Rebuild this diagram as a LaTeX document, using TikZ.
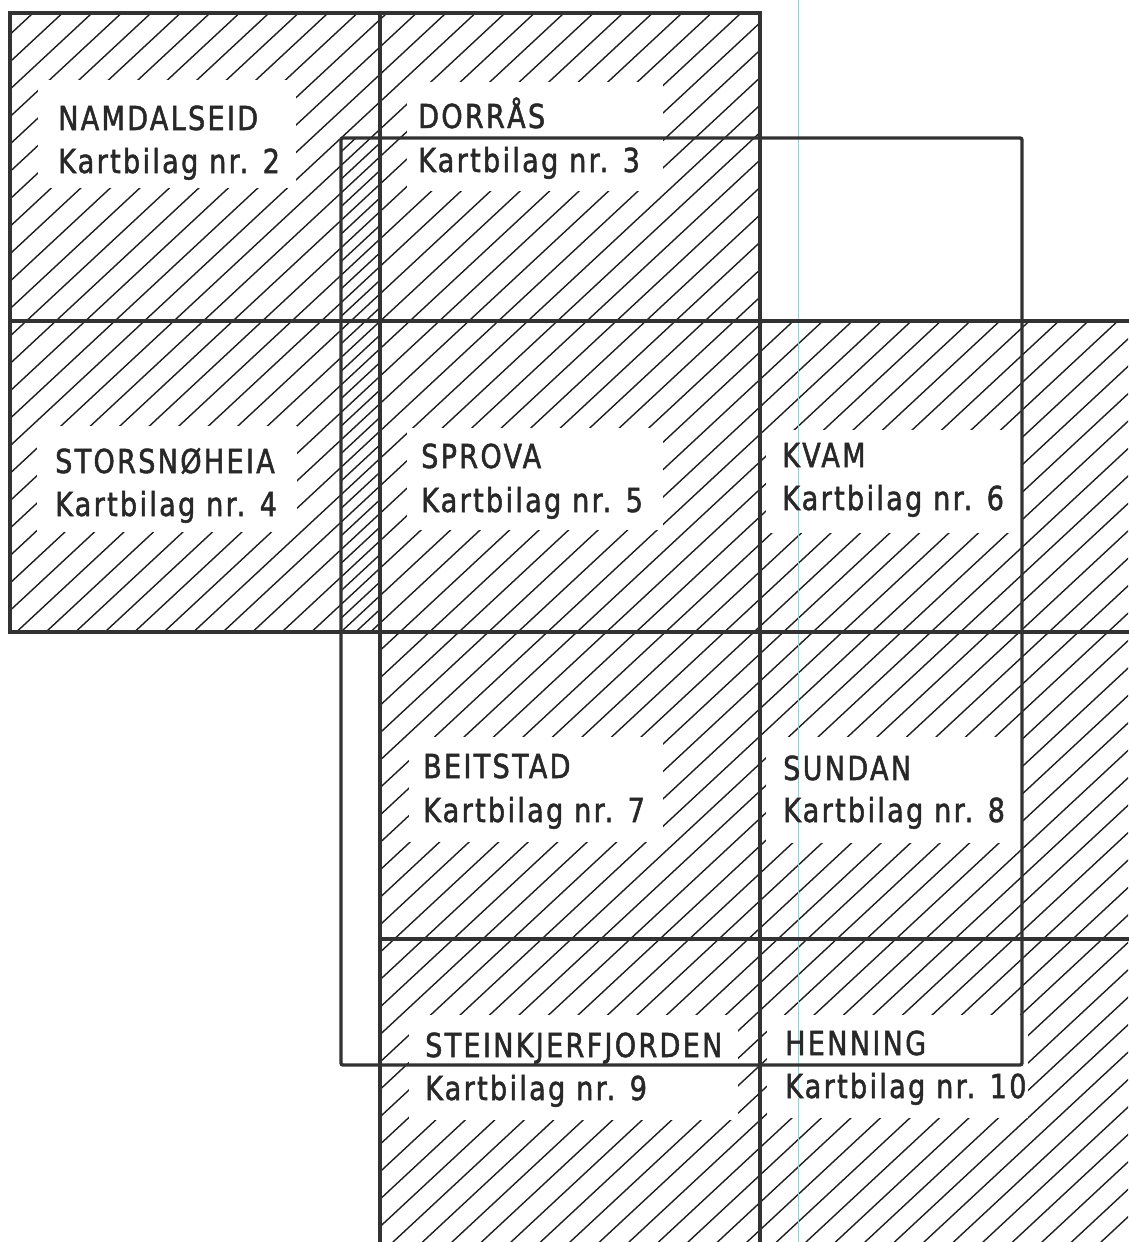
\documentclass[tikz,border=0pt]{standalone}
\usepackage{fontspec}
\setmainfont{DejaVu Sans}
\newfontfamily\techfont[FakeStretch=0.82,LetterSpace=7,FakeBold=1.5]{DejaVu Sans}
\definecolor{framec}{RGB}{50,50,50}
\definecolor{hatchc}{RGB}{30,30,30}
\definecolor{textc}{RGB}{40,40,40}
\definecolor{scanc}{RGB}{130,215,215}
\newcommand\hatchall[1]{%
  \foreach \k in {-33,...,57} {%
    \draw[hatchline] ({873+#1+29.5*\k+20},-18.6) -- ({873+#1+29.5*\k-1400},1302);
  }%
}
\begin{document}
\begin{tikzpicture}[x=1pt,y=-1pt,
  hatchline/.style={draw=hatchc,line width=1.4pt},
  frame/.style={draw=framec,line width=3.2pt,line cap=rect},
  overlay/.style={draw=framec,line width=3.4pt,rounded corners=2pt},
  lbl/.style={anchor=base west,inner sep=0pt,text=textc,font=\techfont\fontsize{33}{38}\selectfont},
  clearbox/.style={fill=white}]
\useasboundingbox (0,0) rectangle (1128,1242);
\fill[white] (0,0) rectangle (1128,1242);

% ---- hatched cells with clear label areas ----
\begin{scope}\clip (10,13) rectangle (380,321); \hatchall{0}
  \fill[clearbox] (38,80) rectangle (296,188); \end{scope}
\begin{scope}\clip (380,13) rectangle (760,321); \hatchall{0}
  \fill[clearbox] (407,82) rectangle (663,191); \end{scope}
\begin{scope}\clip (10,321) rectangle (380,632); \hatchall{0}
  \fill[clearbox] (37,426) rectangle (297,532); \end{scope}
\begin{scope}\clip (380,321) rectangle (760,632); \hatchall{0}
  \fill[clearbox] (407,428) rectangle (663,530); \end{scope}
\begin{scope}\clip (760,321) rectangle (1128,632); \hatchall{0}
  \fill[clearbox] (766,430) rectangle (1022,533); \end{scope}
\begin{scope}\clip (380,632) rectangle (760,939); \hatchall{0}
  \fill[clearbox] (409,737) rectangle (663,842); \end{scope}
\begin{scope}\clip (760,632) rectangle (1128,939); \hatchall{0}
  \fill[clearbox] (766,737) rectangle (1021,843); \end{scope}
\begin{scope}\clip (380,939) rectangle (760,1242); \hatchall{0}
  \fill[clearbox] (409,1015) rectangle (738,1120); \end{scope}
\begin{scope}\clip (760,939) rectangle (1128,1242); \hatchall{0}
  \fill[clearbox] (767,1015) rectangle (1028,1118); \end{scope}
% double hatching in the overlap strip
\begin{scope}\clip (341,138) rectangle (380,632); \hatchall{14.75} \end{scope}

% ---- scan line ----
\draw[draw=scanc,line width=0.8pt] (798,0) -- (798,1242);

% ---- sheet frames ----
\draw[frame] (10,13) -- (760,13);
\draw[frame] (10,321) -- (1128,321);
\draw[frame] (10,632) -- (1128,632);
\draw[frame] (380,939) -- (1128,939);
\draw[frame] (10,13) -- (10,632);
\draw[frame] (380,13) -- (380,1242);
\draw[frame] (760,13) -- (760,1242);
\draw[overlay] (341,138) rectangle (1022,1065);

% ---- labels ----
\node[lbl] (n2a) at (58,130) {NAMDALSEID};
\node[lbl] (n2b) at (58,173) {Kartbilag nr. 2};
\node[lbl] (n3a) at (418,128) {DORRÅS};
\node[lbl] (n3b) at (418,172) {Kartbilag nr. 3};
\node[lbl] (n4a) at (55,473) {STORSNØHEIA};
\node[lbl] (n4b) at (55,516) {Kartbilag nr. 4};
\node[lbl] (n5a) at (421,468) {SPROVA};
\node[lbl] (n5b) at (421,512) {Kartbilag nr. 5};
\node[lbl] (n6a) at (782,467) {KVAM};
\node[lbl] (n6b) at (782,510) {Kartbilag nr. 6};
\node[lbl] (n7a) at (423,778) {BEITSTAD};
\node[lbl] (n7b) at (423,822) {Kartbilag nr. 7};
\node[lbl] (n8a) at (783,780) {SUNDAN};
\node[lbl] (n8b) at (783,822) {Kartbilag nr. 8};
\node[lbl] (n9a) at (425,1057) {STEINKJERFJORDEN};
\node[lbl] (n9b) at (425,1100) {Kartbilag nr. 9};
\node[lbl] (n10a) at (785,1055) {HENNING};
\node[lbl] (n10b) at (785,1098) {Kartbilag nr. 10};
\end{tikzpicture}
\end{document}
